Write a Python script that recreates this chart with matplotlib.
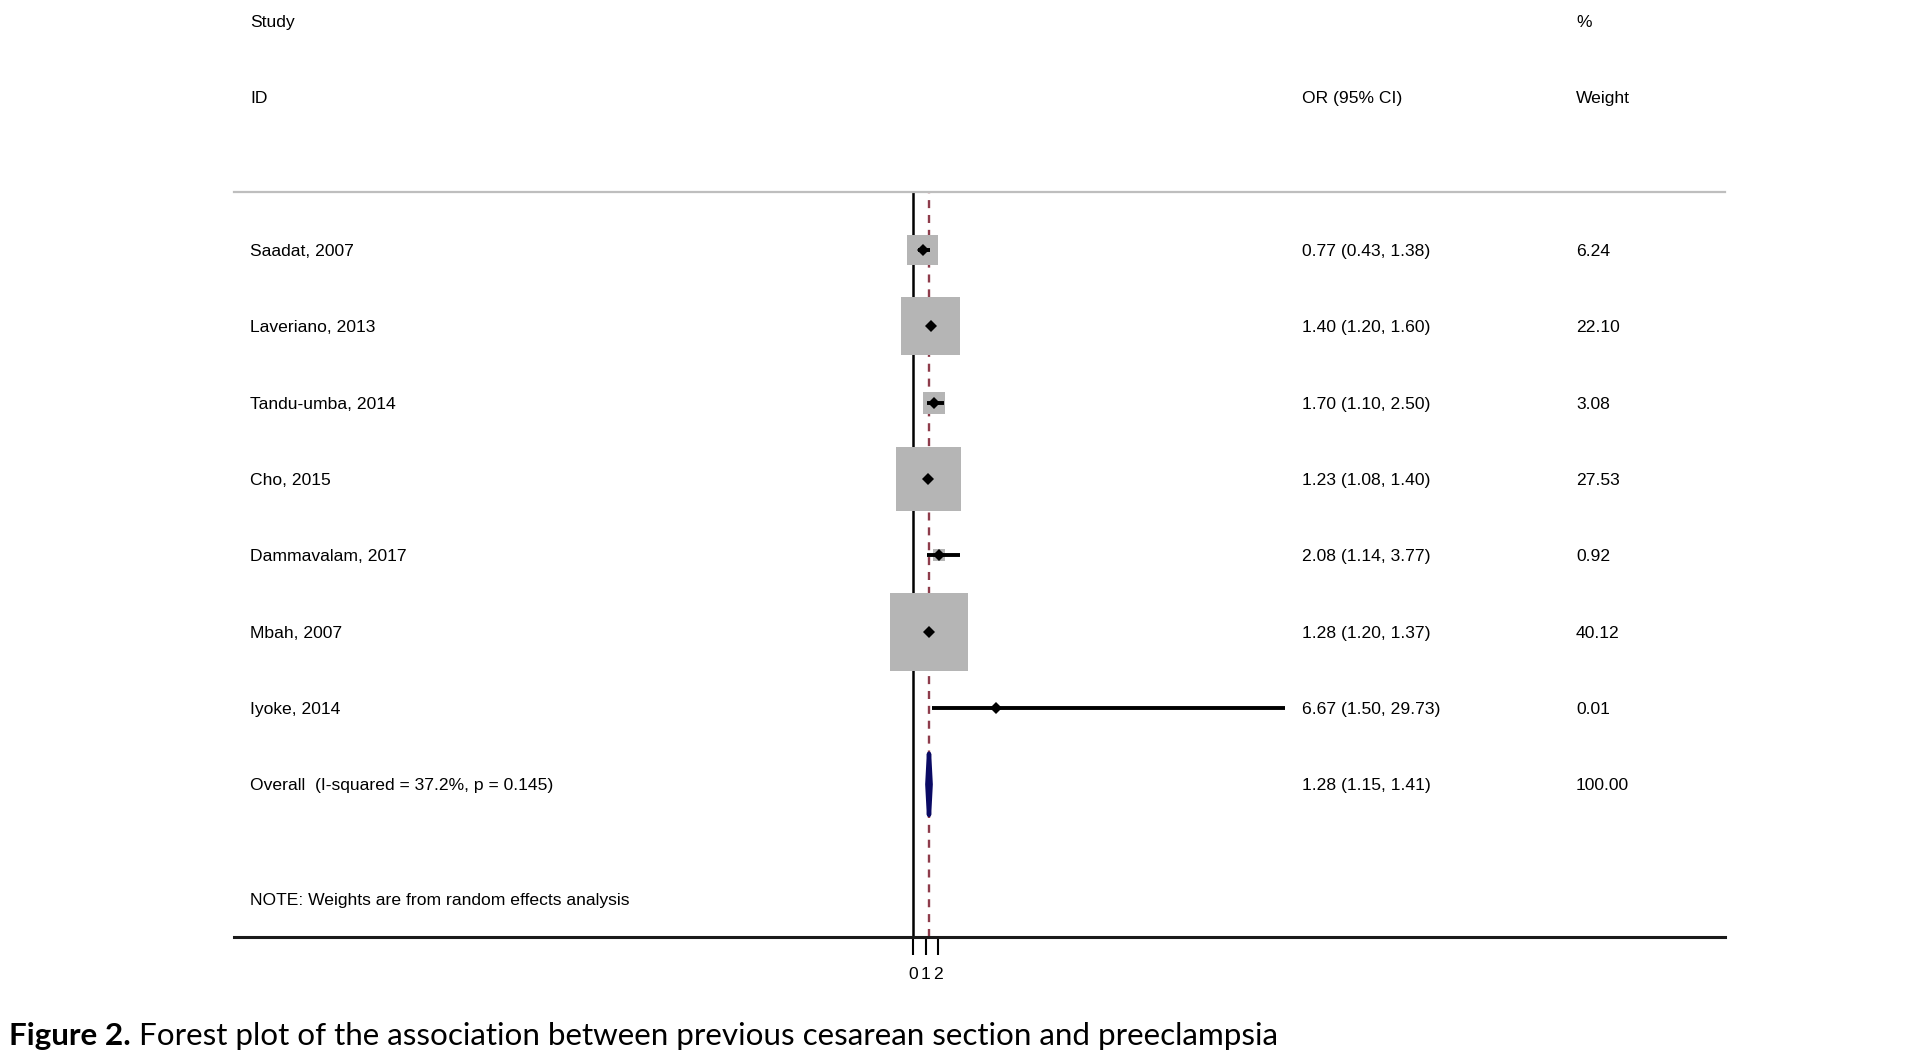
import matplotlib
matplotlib.use("Agg")
from matplotlib import pyplot as plt
from matplotlib.patches import Polygon
import matplotlib.transforms as mtransforms
import numpy as np

# study data
studies = ["Saadat, 2007", "Laveriano, 2013", "Tandu-umba, 2014", "Cho, 2015",
           "Dammavalam, 2017", "Mbah, 2007", "Iyoke, 2014"]
or_est = [0.77, 1.40, 1.70, 1.23, 2.08, 1.28, 6.67]
ci_low = [0.43, 1.20, 1.10, 1.08, 1.14, 1.20, 1.50]
ci_high = [1.38, 1.60, 2.50, 1.40, 3.77, 1.37, 29.73]
weights = [6.24, 22.10, 3.08, 27.53, 0.92, 40.12, 0.01]

overall_label = "Overall  (I-squared = 37.2%, p = 0.145)"
overall_est = 1.28
overall_low = 1.15
overall_high = 1.41
overall_weight = 100.00

x_ticks = [0, 1, 2]
note = "NOTE: Weights are from random effects analysis"

plt.rcParams['font.family'] = ['Liberation Sans', 'DejaVu Sans']
FS = 12.6

fig = plt.figure(figsize=(19.07, 10.60), dpi=100)
W, H = 1907, 1060
ax = fig.add_axes([234 / W, (H - 937) / H, (1725 - 234) / W, 745 / H])

rows = np.arange(1, len(studies) + 1)
ov_row = len(studies) + 1

ax.set_xlim(-54.32, 64.96)
ax.set_ylim(10.0, 0.24)

# reference lines
ax.axvline(0, color='black', lw=1.8, zorder=1)
ax.axvline(overall_est, color='#8e3c4b', lw=1.7, dashes=(3.4, 2.9), zorder=1)

# weight boxes, side proportional to sqrt(weight)
ax.scatter(or_est, rows, s=np.array(weights) * 79, marker='s',
           color='#b5b5b5', linewidths=0, zorder=2)
# confidence intervals
ax.hlines(rows, ci_low, ci_high, color='black', lw=2.8, zorder=3)
ax.plot(or_est, rows, linestyle='none', marker='D', ms=6.5, color='black',
        mew=0, zorder=4)

# pooled diamond
h = 0.40
dia = Polygon([(overall_low, ov_row), (overall_est, ov_row - h),
               (overall_high, ov_row), (overall_est, ov_row + h)],
              closed=True, facecolor='#0a0a64', edgecolor='#0a0a64', lw=3.2,
              joinstyle='round', zorder=4)
ax.add_patch(dia)

# spines / ticks
for side in ['left', 'right']:
    ax.spines[side].set_visible(False)
ax.spines['top'].set_color('#bebebe')
ax.spines['top'].set_linewidth(1.6)
ax.spines['bottom'].set_color('#1a1a1a')
ax.spines['bottom'].set_linewidth(2.2)
ax.set_yticks([])
ax.set_xticks(x_ticks)
ax.set_xticklabels([str(t) for t in x_ticks])
ax.tick_params(axis='x', direction='out', length=13, width=1.5, pad=8.5,
               labelsize=FS, colors='black')

trans = mtransforms.blended_transform_factory(ax.transAxes, ax.transData)
x_id, x_or, x_wt = 0.0107, 0.716, 0.900
VA = 'center_baseline'

# headers
ax.text(x_id, -2, "Study", transform=trans, fontsize=FS, va=VA, clip_on=False)
ax.text(x_id, -1, "ID", transform=trans, fontsize=FS, va=VA, clip_on=False)
ax.text(x_or, -1, "OR (95% CI)", transform=trans, fontsize=FS, va=VA, clip_on=False)
ax.text(x_wt, -2, "%", transform=trans, fontsize=FS, va=VA, clip_on=False)
ax.text(x_wt, -1, "Weight", transform=trans, fontsize=FS, va=VA, clip_on=False)

for r, name, e, lo, hi, w in zip(rows, studies, or_est, ci_low, ci_high, weights):
    ax.text(x_id, r, name, transform=trans, fontsize=FS, va=VA)
    ax.text(x_or, r, f"{e:.2f} ({lo:.2f}, {hi:.2f})", transform=trans,
            fontsize=FS, va=VA)
    ax.text(x_wt, r, f"{w:.2f}", transform=trans, fontsize=FS, va=VA)

ax.text(x_id, ov_row, overall_label, transform=trans, fontsize=FS, va=VA)
ax.text(x_or, ov_row, f"{overall_est:.2f} ({overall_low:.2f}, {overall_high:.2f})",
        transform=trans, fontsize=FS, va=VA)
ax.text(x_wt, ov_row, f"{overall_weight:.2f}", transform=trans, fontsize=FS, va=VA)
ax.text(x_id, 9.5, note, transform=trans, fontsize=FS, va=VA)

# caption
cap_y = (H - 1045) / H
CFS = 22.6
t1 = fig.text(9 / W, cap_y, "Figure 2.", fontsize=CFS, fontweight='bold',
              family='Lato', va='baseline')
fig.canvas.draw()
bb = t1.get_window_extent()
fig.text((bb.x1 + 8) / W, cap_y,
         "Forest plot of the association between previous cesarean section and preeclampsia",
         fontsize=CFS, family='Lato', va='baseline')

fig.savefig("out.png", dpi=100)
